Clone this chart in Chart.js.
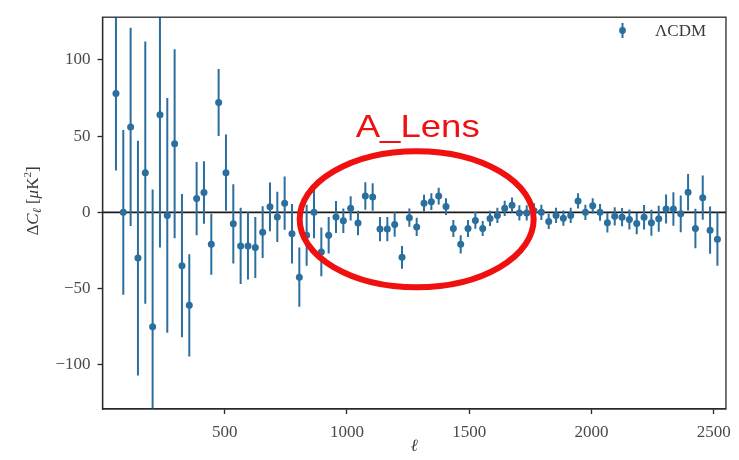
<!DOCTYPE html>
<html>
<head>
<meta charset="utf-8">
<script src="https://cdn.jsdelivr.net/npm/chart.js@4.4.1/dist/chart.umd.min.js"></script>
<style>
  html, body { margin: 0; padding: 0; background: #ffffff; }
  #wrap { width: 739px; height: 460px; position: relative; }
</style>
</head>
<body>
<div id="wrap"><canvas id="c" width="739" height="460"></canvas></div>
<script>
// Multipole bin centres
const ell = [55, 85, 115, 145, 175, 205, 235, 265, 295, 325, 355, 385, 415, 445, 475, 505,
  535, 565, 595, 625, 655, 685, 715, 745, 775, 805, 835, 865, 895, 925, 955, 985,
  1015, 1045, 1075, 1105, 1135, 1165, 1195, 1225, 1255, 1285, 1315, 1345, 1375, 1405,
  1435, 1465, 1495, 1525, 1555, 1585, 1615, 1645, 1675, 1705, 1735, 1765, 1795, 1825,
  1855, 1885, 1915, 1945, 1975, 2005, 2035, 2065, 2095, 2125, 2155, 2185, 2215, 2245,
  2275, 2305, 2335, 2365, 2395, 2425, 2455, 2485, 2515];

// Residual Delta C_ell relative to LambdaCDM [muK^2]
const deltaCl = [78, 0, 56, -30, 26, -75, 64, -2, 45, -35, -61, 9, 13, -21, 72, 26,
  -7.5, -22, -22, -23, -13, 3.6, -3, 6, -14, -42.5, -15, 0, -26, -15, -3, -5.5,
  2.6, -7, 10.7, 10, -11, -11, -8, -29.5, -3.5, -9.6, 6, 7, 10.7, 3.8,
  -10.6, -21, -10.6, -5.3, -10.6, -4, -2, 2.6, 4.7, -0.4, -0.4, 1, 0, -6,
  -2, -3.8, -2, 7.5, 0, 4.3, 0, -6.8, -2.6, -3.2, -4.7, -7.4, -3.2, -6.8,
  -4.2, 2.2, 2.2, -1, 13.2, -10.6, 9.6, -11.7, -17.6];

// 1-sigma uncertainties
const sigma = [50.5, 54, 65, 77, 86, 90, 87, 77, 62, 47, 33.5, 24, 20.5, 20, 22, 25,
  26, 25, 22, 20, 17, 16, 16.5, 17.5, 19.5, 19.5, 20, 17, 16, 12, 10.5, 8,
  8, 8, 9, 9, 8, 8, 8, 7.5, 6, 6, 5.5, 5.5, 5.5, 5.5,
  5.5, 6, 5.5, 5.5, 5, 5, 5, 5, 5, 5, 5, 5, 5, 5,
  5, 5, 5, 5, 5, 5, 5.5, 6.5, 6, 6, 6.5, 7, 8, 8.5,
  8.5, 9.5, 11, 12, 12, 13, 14.5, 15.5, 17.5];

const xTicks = [500, 1000, 1500, 2000, 2500];
const yTicks = [-100, -50, 0, 50, 100];
const seriesLabel = 'ΛCDM';
const annotationText = 'A_Lens';
const lensRegion = { ell: 1285, dc: -4.5 };

const C0 = '#2b6f9f';
const AXIS = '#2a2a2a';
const TICKTXT = '#4a4a4a';
const SERIF = '"Liberation Serif", "DejaVu Serif", serif';

const points = ell.map((l, i) => ({ x: l, y: deltaCl[i], e: sigma[i] }));

// error bars, zero line and frame
const errorBars = {
  id: 'errorBars',
  beforeDatasetsDraw(chart) {
    const { ctx, chartArea: a, scales: { x, y } } = chart;
    ctx.save();
    ctx.beginPath();
    ctx.rect(a.left, a.top, a.right - a.left, a.bottom - a.top);
    ctx.clip();
    // horizontal reference at zero
    ctx.strokeStyle = '#1a1a1a';
    ctx.lineWidth = 1.6;
    ctx.beginPath();
    const y0 = y.getPixelForValue(0);
    ctx.moveTo(a.left, y0);
    ctx.lineTo(a.right, y0);
    ctx.stroke();
    ctx.strokeStyle = C0;
    ctx.lineWidth = 2;
    points.forEach(p => {
      const px = x.getPixelForValue(p.x);
      ctx.beginPath();
      ctx.moveTo(px, y.getPixelForValue(p.y - p.e));
      ctx.lineTo(px, y.getPixelForValue(p.y + p.e));
      ctx.stroke();
    });
    ctx.restore();
  },
  afterDraw(chart) {
    const { ctx, chartArea: a, scales: { x, y } } = chart;
    ctx.save();
    // frame
    ctx.strokeStyle = AXIS;
    ctx.lineWidth = 1.3;
    ctx.strokeRect(a.left, a.top, a.right - a.left, a.bottom - a.top);

    // legend
    const lx = 622.5, ly = 30.5;
    ctx.strokeStyle = C0;
    ctx.lineWidth = 2;
    ctx.beginPath();
    ctx.moveTo(lx, ly - 7.5);
    ctx.lineTo(lx, ly + 7.5);
    ctx.stroke();
    ctx.fillStyle = C0;
    ctx.beginPath();
    ctx.arc(lx, ly, 3.4, 0, Math.PI * 2);
    ctx.fill();
    ctx.fillStyle = '#3a3a3a';
    ctx.font = '17px ' + SERIF;
    ctx.textBaseline = 'middle';
    ctx.textAlign = 'left';
    ctx.fillText(seriesLabel, 655, ly + 1);

    // y-axis label: Delta C_ell [mu K^2]
    ctx.translate(34, 201);
    ctx.rotate(-Math.PI / 2);
    ctx.fillStyle = '#3a3a3a';
    ctx.textBaseline = 'middle';
    const parts = [
      { t: 'Δ', f: '17px ' + SERIF, dy: 0 },
      { t: 'C', f: 'italic 17px ' + SERIF, dy: 0 },
      { t: 'ℓ', f: 'italic 12px ' + SERIF, dy: 4 },
      { t: ' [', f: '17px ' + SERIF, dy: 0 },
      { t: 'μ', f: 'italic 17px ' + SERIF, dy: 0 },
      { t: 'K', f: '17px ' + SERIF, dy: 0 },
      { t: '2', f: '11px ' + SERIF, dy: -6 },
      { t: ']', f: '17px ' + SERIF, dy: 0 }
    ];
    let total = 0;
    parts.forEach(p => { ctx.font = p.f; p.w = ctx.measureText(p.t).width; total += p.w; });
    let cx = -total / 2;
    parts.forEach(p => { ctx.font = p.f; ctx.textAlign = 'left'; ctx.fillText(p.t, cx, p.dy); cx += p.w; });
    ctx.restore();

    // highlighted region with its label
    ctx.save();
    const ex = x.getPixelForValue(lensRegion.ell);
    const ey = y.getPixelForValue(lensRegion.dc);
    ctx.strokeStyle = '#f01010';
    ctx.lineWidth = 6;
    ctx.beginPath();
    ctx.ellipse(ex, ey, 117, 68, 0, 0, Math.PI * 2);
    ctx.stroke();
    ctx.fillStyle = '#f01010';
    ctx.font = '32px "Liberation Sans", Arial, sans-serif';
    ctx.textAlign = 'left';
    ctx.textBaseline = 'alphabetic';
    const w = ctx.measureText(annotationText).width;
    const target = 124;
    ctx.translate(ex + 1 - target / 2, ey - 82);
    ctx.scale(target / w, 1);
    ctx.fillText(annotationText, 0, 0);
    ctx.restore();
  }
};

new Chart(document.getElementById('c'), {
  type: 'scatter',
  data: {
    datasets: [{
      label: seriesLabel,
      data: points,
      pointRadius: 3.5,
      pointHoverRadius: 3.5,
      pointBackgroundColor: C0,
      pointBorderWidth: 0,
      showLine: false
    }]
  },
  options: {
    responsive: false,
    animation: false,
    events: [],
    layout: { padding: { top: 7, right: 13, left: 0, bottom: 0 } },
    plugins: { legend: { display: false }, tooltip: { enabled: false } },
    scales: {
      x: {
        type: 'linear',
        min: 0,
        max: 2550,
        afterFit(s) { s.height = 51; },
        afterBuildTicks(s) { s.ticks = xTicks.map(v => ({ value: v })); },
        grid: { drawOnChartArea: false, drawTicks: true, tickLength: 5, tickColor: AXIS, tickWidth: 1.3 },
        border: { display: true, color: AXIS, width: 1.3 },
        ticks: { color: TICKTXT, font: { family: SERIF, size: 17 }, padding: 8, maxRotation: 0,
                 callback: v => String(v) },
        title: { display: true, text: 'ℓ', color: '#3a3a3a',
                 font: { family: SERIF, size: 17, style: 'italic' }, padding: { top: 0, bottom: 3 } }
      },
      y: {
        type: 'linear',
        min: -129,
        max: 128,
        afterFit(s) { s.width = 102.5; },
        afterBuildTicks(s) { s.ticks = yTicks.map(v => ({ value: v })); },
        grid: { drawOnChartArea: false, drawTicks: true, tickLength: 5, tickColor: AXIS, tickWidth: 1.3 },
        border: { display: true, color: AXIS, width: 1.3 },
        ticks: { color: TICKTXT, font: { family: SERIF, size: 17 }, padding: 7,
                 callback: v => (v < 0 ? '\u2212' + Math.abs(v) : String(v)) }
      }
    }
  },
  plugins: [errorBars]
});
</script>
</body>
</html>
